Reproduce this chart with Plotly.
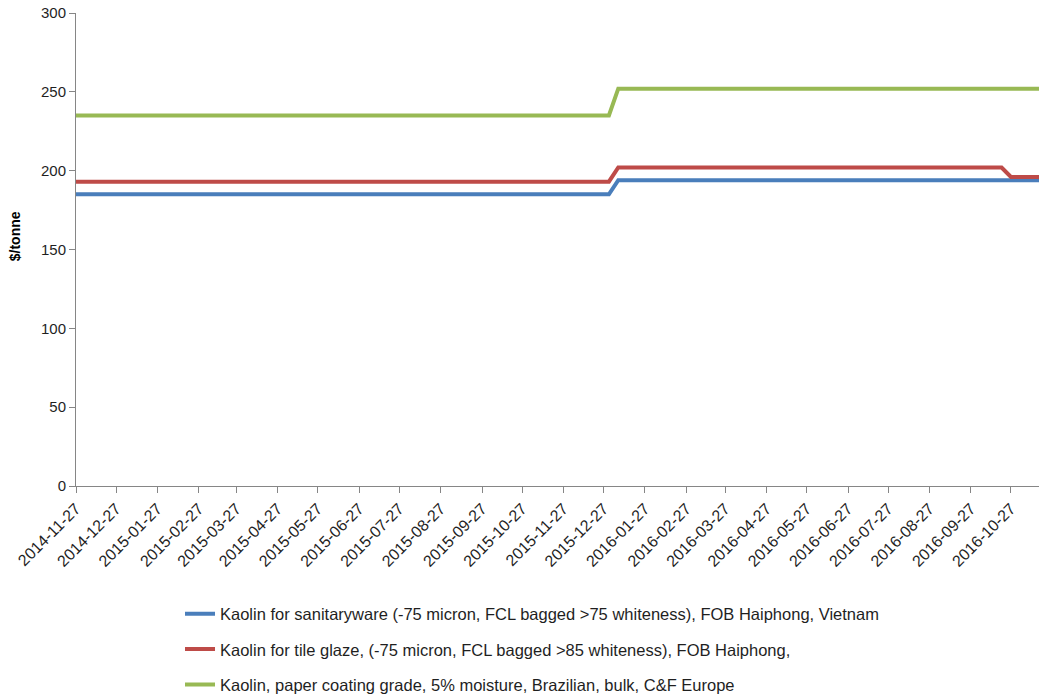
import plotly.graph_objects as go

# Weekly price points (Thursdays) where each series holds or changes level, $/tonne
sanitary_dates = ["2014-11-27", "2015-12-31", "2016-01-07", "2016-11-17"]
sanitary_values = [185, 185, 194, 194]

tile_dates = ["2014-11-27", "2015-12-31", "2016-01-07", "2016-10-20", "2016-10-27", "2016-11-17"]
tile_values = [193, 193, 202, 202, 196, 196]

paper_dates = ["2014-11-27", "2015-12-31", "2016-01-07", "2016-11-17"]
paper_values = [235, 235, 252, 252]

series_names = [
    "Kaolin for sanitaryware (-75 micron, FCL bagged >75 whiteness), FOB Haiphong, Vietnam",
    "Kaolin for tile glaze, (-75 micron, FCL bagged >85 whiteness), FOB Haiphong,",
    "Kaolin, paper coating grade, 5% moisture, Brazilian, bulk, C&F Europe",
]

tick_labels = [
    "2014-11-27", "2014-12-27", "2015-01-27", "2015-02-27", "2015-03-27", "2015-04-27",
    "2015-05-27", "2015-06-27", "2015-07-27", "2015-08-27", "2015-09-27", "2015-10-27",
    "2015-11-27", "2015-12-27", "2016-01-27", "2016-02-27", "2016-03-27", "2016-04-27",
    "2016-05-27", "2016-06-27", "2016-07-27", "2016-08-27", "2016-09-27", "2016-10-27",
]

colors = ["#4A7EBB", "#BE4B48", "#98B954"]

fig = go.Figure()
for i, (d, v) in enumerate([(sanitary_dates, sanitary_values),
                            (tile_dates, tile_values),
                            (paper_dates, paper_values)]):
    fig.add_trace(go.Scatter(
        x=d, y=v, mode="lines", name=series_names[i],
        line=dict(color=colors[i], width=4),
        legendgroup=f"g{i}",
    ))

text_color = "#1F1F1F"
axis_color = "#868686"
fig.update_layout(
    width=1039, height=699,
    margin=dict(l=76, r=0, t=13, b=213, autoexpand=False),
    paper_bgcolor="white", plot_bgcolor="white",
    font=dict(family="Liberation Sans", size=15, color=text_color),
    showlegend=True,
    legend=dict(
        x=0.108, y=-0.2335, xanchor="left", yanchor="top",
        orientation="v", tracegroupgap=11,
        font=dict(size=16.5, color=text_color),
        bgcolor="rgba(0,0,0,0)",
    ),
    xaxis=dict(
        type="date",
        range=["2014-11-27", "2016-11-17"],
        tickvals=tick_labels, ticktext=tick_labels,
        tickangle=-45,
        showgrid=False, zeroline=False,
        showline=True, linecolor=axis_color, linewidth=1,
        ticks="outside", ticklen=6, tickcolor=axis_color,
        tickfont=dict(size=16, color=text_color),
    ),
    yaxis=dict(
        range=[0, 300], tickvals=[0, 50, 100, 150, 200, 250, 300],
        showgrid=False, zeroline=False,
        showline=True, linecolor=axis_color, linewidth=1,
        ticks="outside", ticklen=6, tickcolor=axis_color,
        tickfont=dict(size=15, color=text_color),
    ),
    annotations=[dict(
        text="<b>$/tonne</b>", textangle=-90,
        xref="paper", yref="paper", x=0, y=0.528,
        xanchor="center", yanchor="middle", xshift=-61, showarrow=False,
        font=dict(size=14, color="#000000"),
    )],
)

fig.write_html("out.html")
